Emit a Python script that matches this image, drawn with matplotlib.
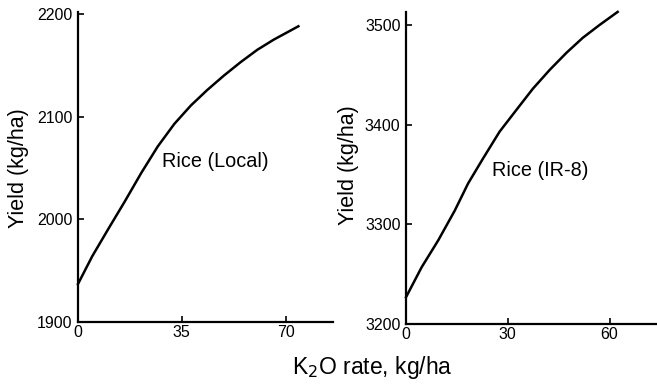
import matplotlib
matplotlib.use("Agg")
import matplotlib.pyplot as plt

plt.rcParams['font.family'] = ['Liberation Sans', 'DejaVu Sans']

# Left panel: Rice (Local)
local_k2o = [0, 4.8, 10.3, 15.7, 21.3, 26.9, 32.5, 38.1, 43.6, 49.2, 54.8, 60.4, 66.0, 74.3]
local_yield = [1937, 1964, 1991, 2017, 2045, 2071, 2093, 2111, 2126, 2140, 2153, 2165, 2175, 2188]

# Right panel: Rice (IR-8)
ir8_k2o = [0, 4.6, 9.5, 14.4, 18.3, 22.7, 27.6, 32.6, 37.4, 42.4, 47.3, 52.1, 57.1, 62.4]
ir8_yield = [3227, 3257, 3284, 3314, 3341, 3366, 3393, 3415, 3436, 3455, 3472, 3487, 3500, 3513]

local_xticks = [0, 35, 70]
local_yticks = [1900, 2000, 2100, 2200]
ir8_xticks = [0, 30, 60]
ir8_yticks = [3200, 3300, 3400, 3500]

fig = plt.figure(figsize=(6.57, 3.84), dpi=100)
ax1 = fig.add_axes([0.1187, 0.1615, 0.3883, 0.8075])
ax2 = fig.add_axes([0.618, 0.156, 0.382, 0.813])

def style(ax):
    for s in ['top', 'right']:
        ax.spines[s].set_visible(False)
    for s in ['left', 'bottom']:
        ax.spines[s].set_linewidth(1.6)
    ax.tick_params(direction='in', length=4, width=1.2, labelsize=11.5)
    ax.tick_params(axis='y', pad=4)
    ax.tick_params(axis='x', pad=2)

ax1.plot(local_k2o, local_yield, color='black', lw=1.8, clip_on=False)
ax1.set_xlim(0, 86)
ax1.set_ylim(1900, 2202)
ax1.set_xticks(local_xticks)
ax1.set_yticks(local_yticks)
ax1.text(28.3, 2056, 'Rice (Local)', fontsize=14.3, va='center', ha='left')
style(ax1)

ax2.plot(ir8_k2o, ir8_yield, color='black', lw=1.8, clip_on=False)
ax2.set_xlim(0, 74)
ax2.set_ylim(3200, 3513)
ax2.set_xticks(ir8_xticks)
ax2.set_yticks(ir8_yticks)
ax2.text(25.3, 3354, 'Rice (IR-8)', fontsize=14.3, va='center', ha='left')
style(ax2)

fig.text(0.028, 0.5625, 'Yield (kg/ha)', fontsize=15.5, rotation=90, ha='center', va='center')
fig.text(0.53, 0.57, 'Yield (kg/ha)', fontsize=15.5, rotation=90, ha='center', va='center')
fig.text(0.567, 0.042, 'K$_2$O rate, kg/ha', fontsize=16.5, ha='center', va='center')

fig.savefig('out.png', dpi=100)
